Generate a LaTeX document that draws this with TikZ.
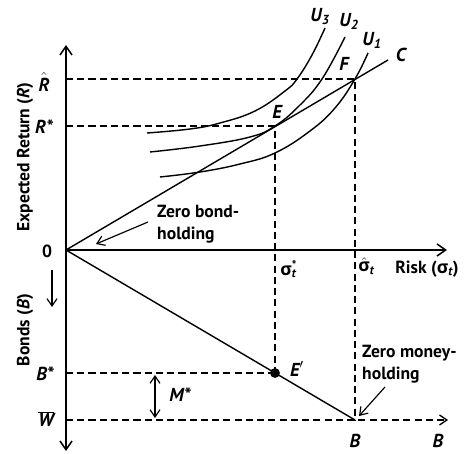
\documentclass[tikz,border=0pt]{standalone}
\usepackage{fontspec}
\setmainfont{PT Sans}
\newfontfamily\grk{Open Sans}
\usetikzlibrary{arrows.meta}
\newcommand{\sgm}{{\grk σ}}
\tikzset{
  axis/.style={black,line width=1.3pt,-{Straight Barb[length=2.6mm,width=3.6mm]}},
  guide/.style={black,line width=1.1pt,dash pattern=on 6pt off 3.6pt},
  ray/.style={black,line width=1.2pt},
  icurve/.style={black,line width=1.2pt},
  pointer/.style={black,line width=1pt,-{Straight Barb[length=2.2mm,width=3mm]}},
  lab/.style={font=\fontsize{15}{19}\selectfont\bfseries,inner sep=1pt},
  var/.style={font=\fontsize{16}{19}\selectfont\bfseries\itshape,inner sep=1pt},
  note/.style={lab,align=left,inner sep=0pt},
}

\begin{document}
\begin{tikzpicture}[x=0.03cm,y=-0.03cm]
  \path[use as bounding box] (0,0) rectangle (470,454);
  % axes
  \coordinate (O) at (66,250);
  \coordinate (ytop) at (66,45);
  \coordinate (ybot) at (66,451);
  \coordinate (xend) at (447,250);
  \draw[axis] (O) -- (ytop);
  \draw[axis] (O) -- (ybot);
  \draw[axis] (O) -- (xend);

  % levels on the vertical axis
  \coordinate (Rh) at (66,79);
  \coordinate (Rs) at (66,126);
  \coordinate (Bs) at (66,373);
  \coordinate (Wb) at (66,420);

  % points
  \coordinate (C) at (388,60);
  \coordinate (F) at (355,79);
  \coordinate (E) at (275,126);
  \coordinate (Ep) at (275,373);
  \coordinate (B) at (355,420);
  \coordinate (Bend) at (448,420);

  \draw[ray] (O) -- (C);
  \draw[ray] (O) -- (B);
  \draw[guide] (Rh) -- (F) -- (B);
  \draw[guide] (Rs) -- (E) -- (Ep);
  \draw[guide] (Bs) -- (Ep);
  \draw[guide,-{Straight Barb[length=2.2mm,width=3mm]}] (Wb) -- (Bend);
  \fill (Ep) circle (4.2pt);

  % indifference curves
  \draw[icurve] plot[smooth,tension=0.7] coordinates
    {(147,133) (190,129) (220,123) (255,111) (285,91) (297,79) (312,55) (325,28)};
  \draw[icurve] plot[smooth,tension=0.7] coordinates
    {(150,152) (200,146) (250,137) (275,126) (299,106) (322,79) (345,37)};
  \draw[icurve] plot[smooth,tension=0.7] coordinates
    {(160,177) (200,172) (240,164) (275,153) (310,131) (335,108) (355,79) (368,53)};

  \node[var] (u3) at (320,17) {U\textsubscript{3}};
  \node[var] (u2) at (349,21) {U\textsubscript{2}};
  \node[var] (u1) at (372,40) {U\textsubscript{1}};
  \node[var] (lc) at (401,55) {C};
  \node[var] (lf) at (344,64) {F};
  \node[var] (le) at (277,112) {E};
  \node[var] (lep) at (297,369) {E$'$};

  % axis labels
  \node[lab,rotate=90] (ylab) at (25,157) {Expected Return (\textit{R})};
  \node[lab,rotate=90] (blab) at (25,330) {Bonds (\textit{B})};
  \node[var] (lrh) at (44,82) {$\hat{\mbox{\itshape R}}$};
  \node[var] (lrs) at (44,127) {R*};
  \node[lab] (lo) at (47,251) {0};
  \node[var] (lbs) at (45,374) {B*};
  \node[var] (lwb) at (46,419) {$\overline{\mbox{\itshape W}}$};
  \node[lab,anchor=west] (lsgs) at (279,269) {\sgm\rlap{\textsuperscript{*}}\textsubscript{\itshape t}};
  \node[lab,anchor=west] (lsgh) at (357,266) {$\hat{\mbox{\sgm}}$\textsubscript{\itshape t}};
  \node[lab,anchor=west] (lrisk) at (394,269) {Risk (\sgm\textsubscript{\itshape t})};
  \node[var] (lb1) at (355,441) {B};
  \node[var] (lb2) at (438,441) {B};

  % bonds direction
  \coordinate (d1) at (52,270);
  \coordinate (d2) at (52,307);
  \draw[pointer] (d1) -- (d2);

  % money holding M*
  \coordinate (m1) at (155,375);
  \coordinate (m2) at (155,418);
  \draw[pointer,{Straight Barb[length=2.2mm,width=3mm]}-{Straight Barb[length=2.2mm,width=3mm]}] (m1) -- (m2);
  \node[var] (lm) at (180,395) {M*};

  % notes
  \node[note,anchor=west] (zb) at (157,224) {Zero bond-\\holding};
  \coordinate (zbtip) at (96,244);
  \draw[pointer] (148,222) -- (zbtip);
  \node[note,anchor=west] (zm) at (362,364) {Zero money-\\holding};
  \coordinate (zmtip) at (359,416);
  \draw[pointer] (385,387) -- (zmtip);
\end{tikzpicture}
\end{document}
